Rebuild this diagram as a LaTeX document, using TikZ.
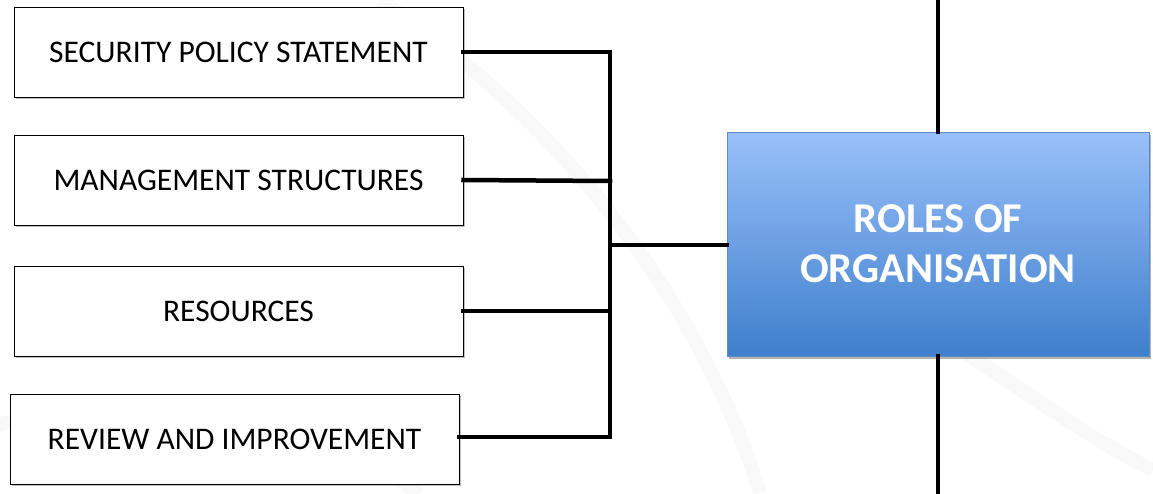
\documentclass[tikz,border=0pt]{standalone}
\usepackage{fontspec}
\setmainfont{Carlito}
\usetikzlibrary{shadows}
\definecolor{topblue}{HTML}{99C0FA}
\definecolor{botblue}{HTML}{3F7FCC}
\definecolor{edgeblue}{HTML}{5A8AC8}
\begin{document}
\begin{tikzpicture}[x=1pt,y=-1pt,
  itembox/.style={draw=black, line width=1pt, fill=white, minimum width=449pt, minimum height=90pt,
    inner sep=0pt, font=\fontsize{31.5}{36}\selectfont, text=black,
    drop shadow={shadow xshift=2pt, shadow yshift=-2pt, opacity=0.25, fill=black}},
  rolebox/.style={draw=edgeblue, line width=0.8pt, top color=topblue, bottom color=botblue,
    minimum width=422pt, minimum height=224pt, inner sep=0pt, align=center, text=white,
    font=\bfseries\fontsize{42.5}{50}\selectfont,
    drop shadow={shadow xshift=2pt, shadow yshift=-3pt, opacity=0.3, fill=black}},
  conn/.style={line width=4.5pt, black, line cap=rect}]
\useasboundingbox (0,0) rectangle (1153,493);
\fill[white] (0,0) rectangle (1153,493);
% faint watermark arcs
\begin{scope}[gray!5, line width=14pt]
\draw (380,0) .. controls (560,120) and (700,300) .. (760,493);
\draw (-20,430) .. controls (150,380) and (300,420) .. (420,493);
\draw (930,330) .. controls (1010,380) and (1090,440) .. (1153,470);
\end{scope}
% vertical axis behind the box
\coordinate (ttop) at (938,0);
\coordinate (tbot) at (938,493);
\node[itembox] (sps) at (238.5,52) {SECURITY POLICY STATEMENT};
\node[itembox] (ms) at (238.5,180) {MANAGEMENT STRUCTURES};
\node[itembox] (res) at (238.5,311) {RESOURCES};
\node[itembox] (rev) at (234.5,439) {REVIEW AND IMPROVEMENT};
\coordinate (jt) at (610,52);
\coordinate (jb) at (610,437);
\coordinate (jm) at (610,245);
\node[rolebox] (roles) at (938,244) {ROLES OF\\ORGANISATION};
\draw[conn] (ttop) -- (roles.north);
\draw[conn] (roles.south) -- (tbot);
\draw[conn] (sps.east) -- (jt);
\draw[conn] (ms.east) -- (610,181);
\draw[conn] (res.east) -- (610,311);
\draw[conn] (rev.east |- jb) -- (jb);
\draw[conn] (jt) -- (jb);
\draw[conn] (jm) -- (roles.west |- jm);
\end{tikzpicture}
\end{document}
